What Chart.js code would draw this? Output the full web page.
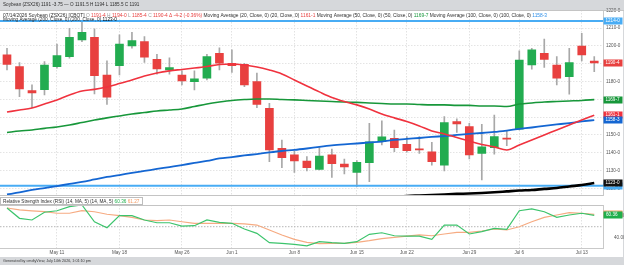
<!DOCTYPE html>
<html><head><meta charset="utf-8">
<script src="https://cdn.jsdelivr.net/npm/chart.js@4.4.1/dist/chart.umd.min.js"></script>
<style>
html,body{margin:0;padding:0;background:#d6d8db;overflow:hidden;}
#wrap{position:relative;width:624px;height:265px;overflow:hidden;background:#d6d8db;}
#panel{position:absolute;left:0;top:10px;width:623px;height:247px;background:#ffffff;}
canvas{position:absolute;left:0;}
#c1{top:0;}
#c2{top:196px;}
#ov{top:0;pointer-events:none;}
</style></head><body>
<div id="wrap"><div id="panel"></div>
<canvas id="c1" width="624" height="196" style="width:624px;height:196px"></canvas>
<canvas id="c2" width="624" height="69" style="width:624px;height:69px"></canvas>
<canvas id="ov" width="624" height="265" style="width:624px;height:265px"></canvas>
</div>
<script>
// ---------- data ----------
const dates = ['May 5','May 6','May 7','May 8','May 11','May 12','May 13','May 14','May 15',
 'May 18','May 19','May 20','May 21','May 22','May 26','May 27','May 28','May 29',
 'Jun 1','Jun 2','Jun 3','Jun 4','Jun 5','Jun 8','Jun 9','Jun 10','Jun 11','Jun 12',
 'Jun 15','Jun 16','Jun 17','Jun 18','Jun 22','Jun 23','Jun 24','Jun 25','Jun 26',
 'Jun 29','Jun 30','Jul 1','Jul 2','Jul 6','Jul 7','Jul 8','Jul 9','Jul 10','Jul 13','Jul 14'];
const tickDates = ['May 11','May 18','May 26','Jun 1','Jun 8','Jun 15','Jun 22','Jun 29','Jul 6','Jul 13'];

const open  = [1195,1188.4,1174.9,1175.5,1188.4,1194,1203.4,1204.9,1183.7,1188.9,
 1200,1202.4,1192.5,1186.5,1183.7,1179.9,1181.9,1195.9,1190.3,1189.7,
 1180,1165,1142.5,1138.8,1135.4,1130.7,1138.8,1133.7,1129,1134.4,
 1146.2,1148.1,1144.8,1141.9,1140.6,1133.1,1157.5,1154.7,1139.7,1142.9,
 1148.1,1153.2,1189.3,1195.9,1189.3,1182.8,1200,1191.5];
const high  = [1198.7,1190.6,1178.1,1191.2,1201.1,1209.9,1213.3,1209.6,1191.6,1206.2,
 1207.7,1205.2,1195.3,1193.4,1186,1186,1195.3,1199,1197.8,1190.3,
 1184.7,1167.8,1147.2,1141,1137.8,1142.9,1142.1,1136.5,1135.6,1156.6,
 1157.9,1152.8,1149.1,1149.1,1145.9,1160.3,1159,1156.6,1156,1161.2,
 1152.2,1197.2,1198.7,1203.9,1194,1198.7,1207.1,1194];
const low   = [1186.5,1171.5,1165.3,1172.5,1187.5,1193.1,1202.4,1173,1167.2,1183.7,
 1198.7,1190.8,1184.1,1184.1,1178.1,1175.3,1180.9,1186.5,1185.2,1177.1,
 1165.3,1135,1131.6,1129,1129.8,1130.3,1126.2,1128.1,1121,1123.8,
 1144.4,1140.6,1140.3,1139.7,1133.1,1129.8,1151.5,1136.5,1124.7,1139.2,
 1144,1152.8,1186.9,1188,1178.1,1172.9,1191.6,1185.5];
const close = [1189.7,1175.8,1173.6,1189.3,1194.6,1204.9,1207.7,1183.3,1171.2,1201,
 1203,1193.7,1187.1,1187.8,1180.3,1181.5,1194,1190.3,1188.9,1178.1,
 1167.2,1141.6,1137.2,1135.4,1131.6,1138.2,1133.9,1132,1134.7,1146.2,
 1148.9,1142.9,1141.2,1141.6,1135,1156.9,1156.2,1138.8,1143.4,1149.1,
 1147.6,1192.1,1197.8,1192.5,1181.9,1190.6,1194.9,1190.5];

const ma20  = [1162.9,1164.0,1165.2,1167.4,1169.7,1172.5,1174.7,1175.6,1177.0,1178.9,
 1180.9,1183.1,1184.8,1186.0,1186.8,1187.6,1188.5,1189.6,1189.9,1189.3,
 1188.2,1186.5,1184.3,1180.9,1177.5,1174.2,1171.1,1168.8,1166.9,1164.6,
 1161.8,1159.6,1157.6,1155.1,1152.2,1150.6,1148.6,1146.6,1144.7,1143.3,
 1141.6,1144.4,1147.2,1150.0,1152.8,1155.6,1158.4,1161.125];
const ma50  = [1151.4,1152.2,1152.8,1153.7,1154.5,1155.6,1157.0,1158.4,1159.6,1160.7,
 1161.8,1162.6,1163.5,1164.0,1164.6,1166.0,1167.4,1168.5,1169.4,1169.9,
 1170.2,1170.2,1169.9,1169.7,1169.4,1169.1,1168.8,1168.5,1168.3,1168.0,
 1167.7,1167.4,1167.4,1167.1,1166.9,1166.9,1166.6,1166.6,1166.3,1166.3,
 1166.0,1167.4,1168.0,1168.5,1168.8,1169.1,1169.4,1169.875];
const ma100 = [1116.6,1117.7,1119.1,1120.2,1121.3,1122.5,1123.6,1125.0,1126.4,1127.5,
 1128.7,1129.8,1130.9,1132.0,1133.1,1134.3,1135.4,1136.8,1137.6,1138.5,
 1139.3,1140.2,1141.0,1141.6,1142.4,1143.3,1144.1,1144.7,1145.2,1145.8,
 1146.3,1147.2,1147.8,1148.3,1148.9,1149.4,1150.0,1150.6,1151.1,1151.7,
 1152.5,1153.4,1154.2,1155.1,1155.9,1156.7,1157.6,1158.375];
const ma200 = [null,null,null,null,null,null,null,null,null,null,
 null,null,null,null,null,null,null,null,null,null,
 null,null,null,null,null,null,null,null,null,null,
 null,1115.2,1115.7,1116.0,1116.3,1116.6,1116.9,1117.1,1117.4,1117.8,
 1118.3,1118.8,1119.1,1119.7,1120.2,1121.1,1121.9,1123.0];
const levels = [1214.0, 1121.5];

const rsi   = [67,57.6,56.1,63.1,64.5,68.2,69.7,54.5,49.1,60,
 60,56.1,53.6,53.6,50.6,50.9,56.1,54,53.1,47.9,
 44,35.5,34.9,34,32.7,36.4,35.5,34.9,36.4,43.1,
 44.5,41.8,41.5,41.5,38.5,51.5,51.5,43.4,45.5,48.5,
 47.6,64.5,66.1,63.6,58.5,60.6,62.2,60.36];
const rsiMa = [67,65.2,64.3,63.6,62.2,62.2,64.5,63.6,61.3,60,
 58.5,56.1,55.5,56.1,54.5,53.1,53.1,53.1,53.1,52.5,
 51.5,47,42.5,38.5,35.8,34.7,34.9,34.9,35.8,37.3,
 39.1,40.4,41.5,42.5,41.8,43.4,44.9,44.9,46.1,47.9,
 47,50,54.5,58.5,60.6,62.7,62.2,61.27];
const rsiMid = 50;

const priceTicks = [1120,1130,1140,1150,1160,1170,1180,1190,1200,1210,1220];
const rsiTicks = [40, 60];

// ---------- style / layout ----------
const X_MIN = -0.56, X_MAX = 47.7;
const FONT = '"Liberation Sans", Arial, sans-serif';
const UP = '#22ac50', DOWN = '#e8403f', WICK = '#a8a8a8';
const C20 = '#f0323e', C50 = '#17973a', C100 = '#1466d2', C200 = '#000000', CLVL = '#48acf4';
const tickIdx = tickDates.map(d => dates.indexOf(d));
const fmt8 = v => { const w = Math.floor(v + 1e-9); return w + '-' + Math.round((v - w) * 8); };
const pts = arr => arr.map((v, i) => ({x: i, y: v}));
const candleCol = open.map((o, i) => close[i] >= o ? UP : DOWN);
const noPad = s => { s.paddingTop = 0; s.paddingBottom = 0; s.paddingLeft = 0; s.paddingRight = 0; };

Chart.defaults.font.family = FONT;

const priceBoxes = {
  id: 'priceBoxes',
  afterDraw(chart) {
    const {ctx, scales: {y}} = chart;
    const n = close.length - 1;
    const items = [
      {v: levels[0], bg: CLVL},
      {v: close[n], bg: candleCol[n]},
      {v: ma50[n], bg: C50},
      {v: ma20[n], bg: C20},
      {v: ma100[n], bg: C100},
      {v: levels[1], bg: CLVL},
      {v: ma200[n], bg: '#111111'}
    ];
    ctx.save();
    items.forEach(it => {
      const py = y.getPixelForValue(it.v);
      ctx.fillStyle = it.bg;
      ctx.fillRect(603.5, Math.round(py) - 3.5, 19, 7);
      ctx.fillStyle = '#ffffff';
      ctx.font = `4.6px ${FONT}`;
      ctx.textBaseline = 'middle';
      ctx.fillText(fmt8(it.v), 605.5, Math.round(py) + 0.2);
    });
    ctx.restore();
  }
};

const lineDs = (arr, color, w, order) => ({
  type: 'line', data: pts(arr), borderColor: color, borderWidth: w, pointRadius: 0,
  cubicInterpolationMode: 'monotone', order, clip: 0, spanGaps: false
});

const priceChart = new Chart(document.getElementById('c1'), {
  type: 'bar',
  data: {
    datasets: [
      lineDs(ma20, C20, 1.6, 1),
      lineDs(ma50, C50, 1.6, 2),
      lineDs(ma100, C100, 1.8, 3),
      lineDs(ma200, C200, 2.6, 4),
      ...levels.map(lv => ({type: 'line', data: [{x: X_MIN, y: lv}, {x: X_MAX, y: lv}],
        borderColor: CLVL, borderWidth: 2, pointRadius: 0, order: 7, clip: 0})),
      {label: 'body', data: open.map((o, i) => ({x: i, y: [o, close[i]]})),
       backgroundColor: candleCol, borderWidth: 0, barThickness: 8, minBarLength: 1.2,
       grouped: false, order: 8},
      {label: 'wick', data: low.map((l, i) => ({x: i, y: [l, high[i]]})),
       backgroundColor: WICK, borderWidth: 0, barThickness: 1, grouped: false, order: 9}
    ]
  },
  options: {
    responsive: false, animation: false, devicePixelRatio: 1,
    layout: {padding: {top: 10, bottom: 0.5, left: 0, right: 0}},
    plugins: {legend: {display: false}, tooltip: {enabled: false}, title: {display: false}},
    scales: {
      x: {type: 'linear', min: X_MIN, max: X_MAX, offset: false,
        afterBuildTicks: s => { s.ticks = tickIdx.map(v => ({value: v})); },
        ticks: {display: false},
        grid: {color: '#e2e2e2', drawTicks: false, offset: false},
        border: {display: false, dash: [1.5, 1.5]},
        afterFit: s => { s.height = 0; noPad(s); }},
      y: {position: 'right', min: 1116.0, max: 1220.2,
        afterBuildTicks: s => { s.ticks = priceTicks.map(v => ({value: v})); },
        ticks: {callback: v => fmt8(v), font: {size: 4.6}, color: '#555', padding: 3, autoSkip: false},
        grid: {color: '#e4e4e4', drawTicks: false},
        border: {display: true, color: '#c9c9c9', dash: [1.5, 1.5]},
        afterFit: s => { s.width = 21; noPad(s); }}
    }
  },
  plugins: [priceBoxes]
});

const rsiBoxes = {
  id: 'rsiBoxes',
  afterDraw(chart) {
    const {ctx, scales: {y}} = chart;
    const n = rsi.length - 1;
    ctx.save();
    [{v: rsiMa[n], bg: '#f3a06c'}, {v: rsi[n], bg: '#1fae4b'}].forEach(it => {
      const py = Math.round(y.getPixelForValue(it.v));
      ctx.fillStyle = it.bg;
      ctx.fillRect(603.5, py - 3.5, 19, 7);
      ctx.fillStyle = '#fff';
      ctx.font = `4.6px ${FONT}`;
      ctx.textBaseline = 'middle';
      ctx.fillText(it.v.toFixed(2), 606, py + 0.2);
    });
    ctx.restore();
  }
};

const rsiChart = new Chart(document.getElementById('c2'), {
  type: 'line',
  data: {
    datasets: [
      {data: pts(rsi), borderColor: '#3cc46c', borderWidth: 1.2, pointRadius: 0, tension: 0, order: 1, clip: 0},
      {data: pts(rsiMa), borderColor: '#f6ab82', borderWidth: 1.2, pointRadius: 0, tension: 0, order: 2, clip: 0},
      {data: [{x: X_MIN, y: rsiMid}, {x: X_MAX, y: rsiMid}], borderColor: '#b5b5b5', borderWidth: 1,
       borderDash: [1.5, 1.5], pointRadius: 0, order: 3}
    ]
  },
  options: {
    responsive: false, animation: false, devicePixelRatio: 1,
    layout: {padding: {top: 9, bottom: 0, left: 0, right: 0}},
    plugins: {legend: {display: false}, tooltip: {enabled: false}},
    scales: {
      x: {type: 'linear', min: X_MIN, max: X_MAX, offset: false,
        afterBuildTicks: s => { s.ticks = tickIdx.map(v => ({value: v})); },
        ticks: {callback: v => dates[v], font: {size: 4.6}, color: '#555', padding: 1.5,
          maxRotation: 0, autoSkip: false},
        grid: {color: '#e2e2e2', drawTicks: false, offset: false},
        border: {display: true, color: '#c9c9c9', dash: [1.5, 1.5]},
        afterFit: s => { s.height = 16.7; noPad(s); }},
      y: {position: 'right', min: 30.4, max: 69.7,
        afterBuildTicks: s => { s.ticks = rsiTicks.map(v => ({value: v})); },
        ticks: {callback: v => v.toFixed(2), font: {size: 4.6}, color: '#555', padding: 3, autoSkip: false},
        grid: {display: false},
        border: {display: true, color: '#c9c9c9'},
        afterFit: s => { s.width = 21; noPad(s); }}
    }
  },
  plugins: [rsiBoxes]
});

// ---------- overlay texts ----------
const ov = document.getElementById('ov').getContext('2d');
function drawSegs(segs, x, y, target) {
  ov.font = `10px ${FONT}`;
  const w = segs.reduce((a, s) => a + ov.measureText(s[0]).width, 0);
  const size = 10 * target / w;
  ov.font = `${size}px ${FONT}`;
  ov.textBaseline = 'middle';
  let cx = x;
  segs.forEach(s => { ov.fillStyle = s[1]; ov.fillText(s[0], cx, y); cx += ov.measureText(s[0]).width; });
}
ov.strokeStyle = '#c4c4c4'; ov.lineWidth = 1;
[[0, 10.5, 624, 10.5], [0, 195.5, 603, 195.5], [0, 205.5, 603, 205.5]].forEach(l => {
  ov.beginPath(); ov.moveTo(l[0], l[1]); ov.lineTo(l[2], l[3]); ov.stroke();
});
const DK = '#2e2e2e', RD = '#e8403f', GY = '#9a9a9a';
drawSegs([['Soybean (ZSX26) 1191 -3.75 \u2014 O 1191.5 H 1194 L 1185.5 C 1191', DK]], 3, 5, 137);
drawSegs([
  ['07/14/2026 Soybean (ZSX26) [CBOT] ', DK], ['O ', GY], ['1191-4 ', RD], ['H ', GY], ['1194-0 ', RD],
  ['L ', GY], ['1185-4 ', RD], ['C ', GY], ['1190-4 ', RD], ['\u0394 -4-2 (-0.36%) ', RD],
  ['Moving Average (20, Close, 0) (20, Close, 0) ', DK], ['1161-1 ', RD],
  ['Moving Average (50, Close, 0) (50, Close, 0) ', DK], ['1169-7 ', C50],
  ['Moving Average (100, Close, 0) (100, Close, 0) ', DK], ['1158-3', '#2a8de8']
], 3, 15.3, 545);
drawSegs([['Moving Average (200, Close, 0) (200, Close, 0) ', DK], ['1123-0', '#000']], 3, 19.6, 114);
ov.fillStyle = '#ffffff'; ov.fillRect(0.5, 197.5, 142, 7);
ov.strokeStyle = '#bdbdbd'; ov.strokeRect(0.5, 197.5, 142, 7);
drawSegs([['Relative Strength Index (RSI) (14, MA, 5) (14, MA, 5) ', DK], ['60.36', '#1fae4b'], [' 61.27', '#f39a62']], 3, 201.2, 137);
drawSegs([['Generated by cmdtyView, July 14th 2026, 1:01:10 pm', '#3a3a3a']], 3, 261, 88);
</script></body></html>
